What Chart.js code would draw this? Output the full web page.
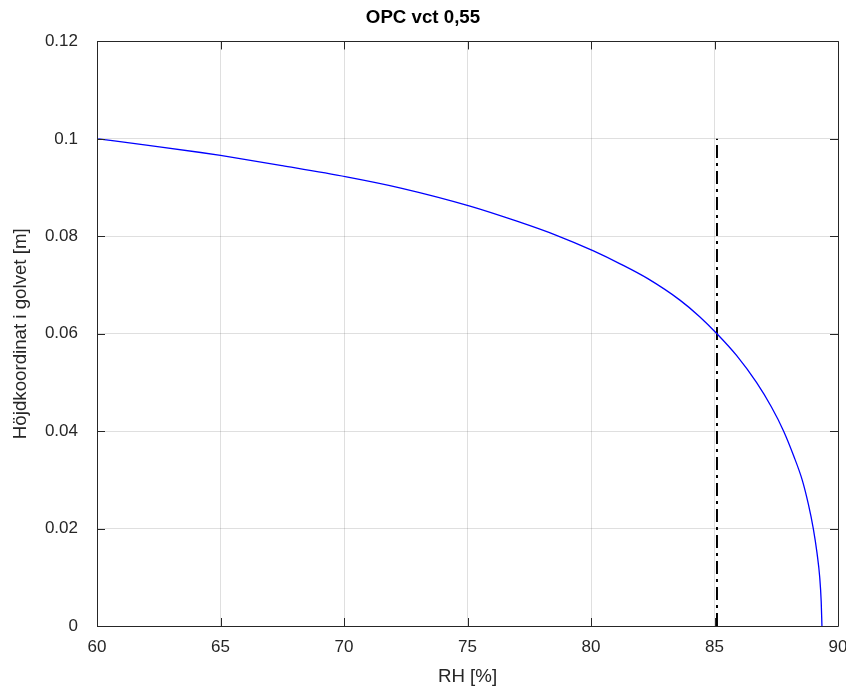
<!DOCTYPE html>
<html>
<head>
<meta charset="utf-8">
<title>OPC vct 0,55</title>
<script src="https://cdn.jsdelivr.net/npm/chart.js@4/dist/chart.umd.min.js"></script>
<style>
  html, body { margin: 0; padding: 0; background: #fff; }
  #wrap { width: 846px; height: 691px; position: relative; }
</style>
</head>
<body>
<div id="wrap"><canvas id="rhChart"></canvas></div>
<script>
// RH profile through the slab
const rhValues = [60.05, 62.0, 64.2, 65.0, 67.5, 70.1, 72.3, 75.1, 77.0, 78.6, 80.1, 81.2, 82.3, 83.6, 84.4, 85.1, 85.9, 86.7, 87.3, 87.8, 88.2, 88.55, 88.8, 89.0, 89.15, 89.26, 89.32, 89.35];
const heightValues = [0.1, 0.0987, 0.0972, 0.0966, 0.0945, 0.0922, 0.0899, 0.0862, 0.0831, 0.0802, 0.0770, 0.0743, 0.0713, 0.0669, 0.0635, 0.0600, 0.0555, 0.0500, 0.0450, 0.0400, 0.0350, 0.0300, 0.0250, 0.0200, 0.0150, 0.0100, 0.0050, 0];

// Vertical reference line
const limitRH = [85.1, 85.1];
const limitHeight = [0, 0.1];

const xTickLabels = ['60', '65', '70', '75', '80', '85', '90'];
const yTickLabels = ['0', '0.02', '0.04', '0.06', '0.08', '0.1', '0.12'];

const FONT = "'Liberation Sans', Arial, Helvetica, sans-serif";
const AXIS_COLOR = '#262626';

const toPoints = (xs, ys) => xs.map((x, i) => ({ x: x, y: ys[i] }));

// Box around the plot area with inward tick marks on all sides
const boxPlugin = {
  id: 'boxPlugin',
  afterDraw(chart) {
    const { ctx, chartArea: a, scales } = chart;
    const len = 8;
    ctx.save();
    ctx.strokeStyle = AXIS_COLOR;
    ctx.lineWidth = 1;
    ctx.beginPath();
    ctx.rect(Math.round(a.left) + 0.5, Math.round(a.top) + 0.5,
      Math.round(a.right - a.left), Math.round(a.bottom - a.top));
    scales.x.ticks.forEach(t => {
      const px = Math.round(scales.x.getPixelForValue(t.value)) + 0.5;
      ctx.moveTo(px, a.bottom);
      ctx.lineTo(px, a.bottom - len);
      ctx.moveTo(px, a.top);
      ctx.lineTo(px, a.top + len);
    });
    scales.y.ticks.forEach(t => {
      const py = Math.round(scales.y.getPixelForValue(t.value)) + 0.5;
      ctx.moveTo(a.left, py);
      ctx.lineTo(a.left + len, py);
      ctx.moveTo(a.right, py);
      ctx.lineTo(a.right - len, py);
    });
    ctx.stroke();
    ctx.restore();
  }
};

const ctx = document.getElementById('rhChart').getContext('2d');
new Chart(ctx, {
  type: 'scatter',
  data: {
    datasets: [
      {
        label: 'RH',
        data: toPoints(rhValues, heightValues),
        showLine: true,
        borderColor: '#0000ff',
        borderWidth: 1.3,
        pointRadius: 0,
        cubicInterpolationMode: 'monotone',
        fill: false
      },
      {
        label: 'Gräns',
        data: toPoints(limitRH, limitHeight),
        showLine: true,
        borderColor: '#000000',
        borderWidth: 2,
        borderDash: [13, 5, 3, 5],
        pointRadius: 0,
        fill: false
      }
    ]
  },
  options: {
    responsive: true,
    maintainAspectRatio: false,
    animation: false,
    layout: { padding: { top: 0, left: 0, right: 0, bottom: 0 } },
    plugins: {
      legend: { display: false },
      tooltip: { enabled: false },
      title: {
        display: true,
        text: 'OPC vct 0,55',
        color: '#000',
        font: { family: FONT, size: 18.7, weight: 'bold' },
        padding: { top: 7, bottom: 12 }
      }
    },
    scales: {
      x: {
        type: 'linear',
        min: 60,
        max: 90,
        afterFit: s => { s.height = 65; s.paddingRight = 8; s.paddingLeft = 0; },
        afterBuildTicks: s => { s.ticks = xTickLabels.map(v => ({ value: Number(v) })); },
        ticks: {
          stepSize: 5,
          padding: 11,
          color: AXIS_COLOR,
          font: { family: FONT, size: 17 },
          callback: (v, i) => xTickLabels[i]
        },
        grid: { color: 'rgba(38,38,38,0.15)', drawTicks: false },
        border: { display: false },
        title: {
          display: true,
          text: 'RH [%]',
          color: AXIS_COLOR,
          font: { family: FONT, size: 18.7 },
          padding: { top: 0, bottom: 3 }
        }
      },
      y: {
        type: 'linear',
        min: 0,
        max: 0.12,
        afterFit: s => { s.width = 97; },
        afterBuildTicks: s => { s.ticks = yTickLabels.map(v => ({ value: Number(v) })); },
        ticks: {
          stepSize: 0.02,
          padding: 19,
          color: AXIS_COLOR,
          font: { family: FONT, size: 17 },
          callback: (v, i) => yTickLabels[i]
        },
        grid: { color: 'rgba(38,38,38,0.15)', drawTicks: false },
        border: { display: false },
        title: {
          display: true,
          text: 'Höjdkoordinat i golvet [m]',
          color: AXIS_COLOR,
          font: { family: FONT, size: 18.7 },
          padding: { top: 10, bottom: 0 }
        }
      }
    }
  },
  plugins: [boxPlugin]
});
</script>
</body>
</html>
